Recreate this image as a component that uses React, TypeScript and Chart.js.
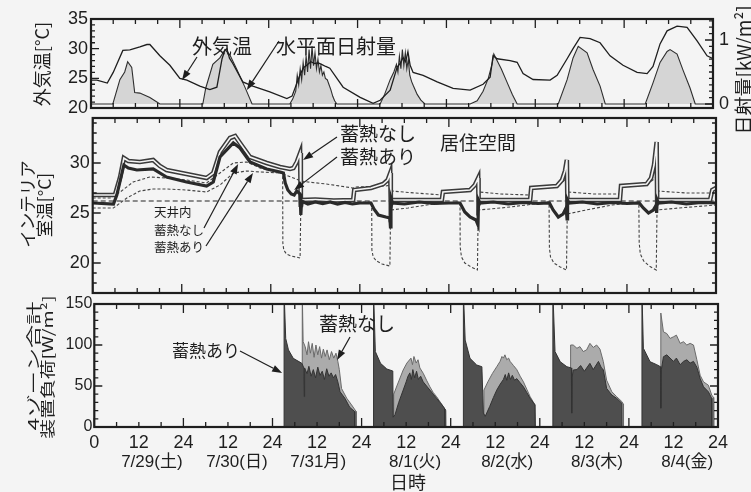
import React, { useEffect, useRef } from 'react';
import { Chart, registerables } from 'chart.js';

Chart.register(...registerables);

type Pair = [number, number];

// ---------------- data ----------------
const X_TICK_HOURS = [0, 12, 24, 36, 48, 60, 72, 84, 96, 108, 120, 132, 144, 156, 168];
const DAY_LABELS = ['7/29(土)', '7/30(日)', '7/31月)', '8/1(火)', '8/2(水)', '8/3(木)', '8/4(金)'];
const OUT_TEMP_TICKS = [20, 25, 30, 35];
const SOLAR_TICKS = [0, 1];
const ROOM_TEMP_TICKS = [20, 25, 30];
const LOAD_TICKS = [0, 50, 100, 150];

// 外気温 [°C]
const OUTDOOR_TEMP: Pair[] = [
  [0, 24.7], [1.6, 24.7], [4.4, 24.2], [6.0, 26.0], [8.6, 29.7], [10.5, 29.8], [13.2, 30.3], [15.1, 30.7],
  [15.9, 30.7], [18.6, 28.8], [21.3, 27.2], [24.0, 25.0], [25.9, 24.7], [29.4, 23.7], [32.1, 23.1], [34.0, 23.5],
  [35.4, 28.3], [36.2, 29.8], [36.7, 30.0], [37.4, 28.4], [38.3, 27.5], [41.0, 24.4], [43.7, 23.7], [48.3, 22.7],
  [52.9, 21.6], [54.3, 22.0], [56.4, 25.5], [57.4, 26.8], [58.4, 27.3], [59.4, 27.8], [60.4, 27.5], [61.4, 27.6],
  [62.4, 27.3], [63.4, 27.0], [64.5, 26.7], [68.1, 23.5], [72.7, 21.8], [76.2, 20.8], [78.1, 21.3], [80.8, 23.0],
  [82.7, 26.9], [83.5, 27.5], [84.3, 28.5], [85.0, 27.8], [85.6, 29.5], [86.2, 27.2], [87.0, 26.0], [89.7, 25.5],
  [93.5, 24.4], [97.8, 23.3], [102.4, 23.0], [105.9, 24.0], [107.8, 25.2], [108.6, 28.8], [109.7, 28.3],
  [113.2, 28.0], [115.1, 27.7], [116.7, 25.8], [119.4, 24.8], [124.0, 24.7], [125.9, 25.5], [128.6, 28.3],
  [130.2, 30.0], [132.1, 31.9], [134.8, 31.7], [137.5, 31.0], [140.2, 28.8], [143.7, 27.2], [147.5, 26.0],
  [150.2, 25.8], [151.8, 27.0], [153.7, 30.8], [155.6, 33.0], [158.3, 33.8], [161.0, 33.6], [163.7, 31.3],
  [166.4, 28.8], [168, 28.3],
];

// 水平面日射量 [kW/m²]
const SOLAR_RADIATION: Pair[] = [
  [0, 0], [5.9, 0], [7.8, 0.38], [9.1, 0.5], [9.9, 0.66], [11.0, 0.57], [11.8, 0.18], [13.2, 0.17], [15.9, 0.1],
  [17.8, 0.03], [18.6, 0],
  [30.2, 0], [31.0, 0.25], [32.9, 0.62], [34.8, 0.72], [36.2, 0.85], [37.5, 0.77], [39.4, 0.54], [41.6, 0.26], [43.5, 0],
  [53.7, 0], [54.5, 0.08], [55.3, 0.2], [55.7, 0.45], [56.1, 0.3], [56.5, 0.55], [56.9, 0.38], [57.3, 0.65],
  [57.7, 0.45], [58.1, 0.75], [58.5, 0.5], [58.9, 0.85], [59.3, 0.55], [59.7, 0.9], [60.1, 0.6], [60.5, 0.8],
  [60.9, 0.55], [61.3, 0.7], [61.7, 0.5], [62.1, 0.6], [62.5, 0.45], [62.9, 0.5], [63.3, 0.4], [63.8, 0.38],
  [64.3, 0.3], [64.8, 0.22], [65.3, 0.12], [65.8, 0.05], [66.4, 0],
  [78.1, 0], [79.3, 0.15], [80.8, 0.38], [81.8, 0.5], [82.5, 0.62], [82.9, 0.5], [83.3, 0.75], [83.7, 0.55],
  [84.1, 0.85], [84.5, 0.6], [84.9, 0.8], [85.3, 0.55], [85.7, 0.7], [86.1, 0.45], [86.6, 0.35], [87.1, 0.28],
  [88.1, 0.15], [89.1, 0.06], [90.2, 0],
  [102.4, 0], [104.3, 0.05], [105.9, 0.2], [107.3, 0.4], [108.3, 0.62], [108.8, 0.78], [109.5, 0.7], [110.8, 0.55],
  [112.3, 0.35], [113.8, 0.15], [115.1, 0],
  [126.2, 0], [128.6, 0.38], [130.2, 0.72], [131.6, 0.9], [134.0, 0.8], [135.6, 0.54], [137.5, 0.28], [138.9, 0],
  [149.7, 0], [151.8, 0.33], [153.7, 0.65], [155.6, 0.82], [156.4, 0.85], [158.3, 0.78], [159.9, 0.53],
  [161.8, 0.25], [163.2, 0], [168, 0],
];

// 居住空間 蓄熱なし [°C]
const ROOM_NO_STORAGE: Pair[] = [
  [0, 26.8], [6.0, 26.8], [7.4, 28.6], [8.4, 30.5], [9.6, 30.2], [12.7, 30.1], [16.3, 30.3], [18.1, 29.7],
  [19.9, 29.3], [25.3, 28.9], [30.7, 28.5], [32.5, 29.0], [34.3, 31.1], [37.0, 32.5], [38.4, 32.7], [39.7, 32.0],
  [42.4, 30.6], [46.9, 30.0], [50.5, 29.6], [53.2, 29.4], [54.1, 29.5], [55.0, 30.1], [55.9, 31.0], [56.1, 25.6],
  [56.4, 26.3], [60, 26.35], [65, 26.25], [70.2, 26.3], [70.5, 27.3], [75, 27.5], [78.3, 27.9], [79.5, 28.3],
  [80.2, 29.0], [80.35, 25.8], [80.7, 26.3], [87, 26.3], [94.1, 26.3], [94.4, 27.1], [101.7, 27.3], [103.0, 27.8],
  [103.9, 28.5], [104.0, 25.9], [104.4, 26.3], [111, 26.3], [117.9, 26.3], [118.2, 27.5], [125.1, 27.7],
  [126.5, 28.3], [127.3, 29.2], [127.8, 30.3], [127.95, 26.0], [128.4, 26.3], [135, 26.3], [142.1, 26.3],
  [142.4, 27.7], [149.3, 27.9], [150.5, 28.5], [151.3, 29.8], [152.0, 32.1], [152.15, 26.0], [152.6, 26.3],
  [160, 26.3], [166.4, 26.3], [167, 27.3], [168, 27.5],
];

// 居住空間 蓄熱あり [°C]
const ROOM_WITH_STORAGE: Pair[] = [
  [0, 26.0], [5.6, 25.9], [6.5, 26.8], [8.4, 29.8], [9.6, 29.5], [11.9, 29.3], [16.3, 29.4], [19.9, 28.6],
  [25.3, 28.1], [30.7, 27.7], [32.5, 28.1], [34.3, 30.6], [37.9, 32.0], [39.7, 31.5], [42.4, 30.1], [46.9, 29.4],
  [50.5, 29.1], [51.4, 29.0], [51.9, 28.0], [52.6, 27.3], [53.5, 26.9], [54.3, 26.8], [55.0, 27.2], [55.9, 26.9],
  [56.1, 24.8], [56.3, 26.2], [58, 25.9], [60, 26.1], [62, 25.95], [64, 26.1], [66, 25.9], [68, 26.05], [70, 25.9],
  [72, 26.0], [75.0, 26.0], [75.8, 25.4], [77.0, 24.8], [79.0, 24.6], [80.1, 24.5], [80.25, 23.6], [80.4, 26.5],
  [80.8, 26.0], [84, 25.9], [88, 26.1], [92, 25.95], [96, 26.0], [99.0, 26.0], [100.3, 25.1], [101.7, 24.6],
  [103.3, 24.3], [103.85, 23.8], [104.0, 26.3], [104.4, 26.0], [108, 26.1], [112, 25.9], [116, 26.05],
  [120, 25.95], [123.1, 26.0], [124.1, 25.3], [125.5, 24.6], [126.8, 24.9], [127.6, 25.5], [127.85, 24.4],
  [128.0, 26.3], [128.4, 26.0], [132, 26.1], [136, 25.9], [140, 26.05], [144, 25.95], [147.3, 26.0],
  [148.4, 25.5], [149.8, 25.0], [151.1, 25.3], [151.9, 25.8], [152.0, 25.0], [152.15, 26.3], [152.5, 26.0],
  [156, 26.1], [160, 25.9], [164, 26.05], [168, 26.0],
];

// 天井内 蓄熱なし [°C]
const CEILING_NO_STORAGE: Pair[] = [
  [0, 26.5], [4.7, 26.5], [7.4, 27.1], [10.9, 28.1], [15.4, 28.6], [19.9, 28.5], [25.3, 28.3], [30.7, 28.0],
  [34.3, 29.0], [37.9, 30.0], [41.5, 30.1], [45.1, 29.5], [50.5, 29.0], [54.1, 28.5], [56.1, 28.2], [58, 28.1],
  [63, 27.9], [70.2, 27.5], [71, 27.6], [79, 27.7], [80.3, 27.8], [80.6, 27.2], [87, 27.0], [94.1, 26.8],
  [94.5, 27.2], [101.7, 27.3], [103.9, 27.8], [104.2, 27.1], [110, 26.9], [117.9, 26.8], [118.3, 27.5],
  [125.1, 27.6], [127.8, 28.5], [128.1, 27.1], [135, 26.9], [142.1, 26.9], [142.5, 27.6], [149.3, 27.8],
  [152.0, 28.6], [152.3, 27.2], [160, 27.0], [166.4, 27.0], [168, 27.3],
];

// 天井内 蓄熱あり [°C]
const CEILING_WITH_STORAGE: Pair[] = [
  [0, 25.5], [5.6, 25.5], [9.2, 26.5], [12.7, 27.2], [16.3, 27.4], [19.9, 27.4], [25.3, 27.3], [30.7, 27.1],
  [34.3, 27.8], [37.9, 29.0], [41.5, 29.2], [45.1, 29.1], [51.2, 29.0], [51.25, 22.0], [51.5, 21.3], [52.2, 20.9],
  [53.5, 20.7], [55.9, 20.5], [56.1, 26.0], [62, 26.1], [70, 26.1], [75.2, 26.1], [75.25, 21.3], [75.6, 20.6],
  [76.5, 20.2], [78.0, 19.9], [80.1, 19.7], [80.3, 25.3], [85, 25.5], [90, 25.8], [95, 26.0], [99.0, 26.1],
  [99.05, 21.6], [99.4, 20.6], [100.3, 20.0], [102, 19.6], [103.7, 19.3], [103.9, 25.3], [110, 25.5], [117, 25.8],
  [123.0, 26.1], [123.1, 21.5], [123.4, 20.6], [124.3, 20.0], [126, 19.6], [127.7, 19.3], [127.9, 24.9],
  [133, 25.3], [140, 25.8], [147.2, 26.1], [147.3, 22.0], [147.6, 20.9], [148.5, 20.2], [150, 19.7],
  [151.9, 19.3], [152.1, 25.3], [158, 25.5], [168, 25.8],
];

// 基準線 [°C]
const SETPOINT: Pair[] = [[0, 26.2], [168, 26.2]];

// 4ゾーン合計 装置負荷 蓄熱あり [W/m²]
const LOAD_WITH_STORAGE: Pair[] = [
  [0, 0], [51.1, 0], [51.12, 165], [51.56, 108], [52.3, 94], [53.6, 83.7], [55.9, 77.7], [56.45, 72], [56.55, 37],
  [56.65, 72], [57.3, 65], [57.8, 74], [58.4, 62], [59.0, 70], [59.6, 60], [60.2, 73], [60.8, 63], [61.4, 68],
  [62.0, 58], [62.6, 71], [63.2, 62], [63.8, 66], [64.4, 60], [65.0, 64], [65.6, 55], [66.2, 43], [67.5, 35],
  [68.8, 24], [70.1, 19], [70.15, 0],
  [75.2, 0], [75.22, 165], [75.7, 92], [77.1, 77.6], [78.8, 70.7], [80.4, 68.3], [80.5, 12], [81.0, 15], [82.0, 30],
  [83.2, 45], [84.0, 55], [84.5, 62], [85.0, 66], [85.4, 58], [85.8, 70], [86.3, 60], [86.8, 68], [87.3, 58],
  [87.9, 62], [88.6, 55], [89.5, 50], [90.4, 45], [91.3, 40], [92.2, 35], [93.1, 30], [94.0, 25], [94.4, 22],
  [94.45, 0],
  [99.4, 0], [99.42, 165], [99.9, 106], [101.2, 83.7], [103.0, 75.6], [104.4, 73.5], [104.8, 17], [105.3, 13],
  [106.5, 25], [107.5, 36], [108.4, 45], [109.3, 52], [110.2, 58], [110.7, 64], [111.1, 57], [111.6, 66],
  [112.1, 58], [112.6, 63], [113.2, 57], [113.8, 59], [114.7, 54], [115.6, 49], [116.5, 42], [117.4, 35],
  [118.7, 27], [118.75, 0],
  [123.5, 0], [123.52, 165], [124.1, 92], [125.5, 79.6], [127.3, 73.5], [128.5, 72], [128.6, 17], [128.7, 60],
  [129.0, 69.5], [130.0, 70], [131.0, 75], [132.0, 68], [133.5, 77.6], [134.4, 70], [135.8, 80], [136.6, 72],
  [137.1, 70], [138.0, 47], [139.4, 39], [140.7, 35], [142.1, 29], [142.15, 0],
  [147.5, 0], [147.52, 165], [147.9, 96], [149.7, 79.6], [151.5, 76], [152.5, 73.5], [152.6, 23], [152.75, 70],
  [153.3, 85.7], [154.2, 88], [156.0, 80], [156.8, 84], [157.8, 76], [158.7, 80], [159.6, 82], [160.5, 78],
  [161.4, 80], [162.3, 73], [163.2, 59], [164.1, 49], [165.4, 43], [166.3, 35], [166.35, 0], [168, 0],
];

// 4ゾーン合計 装置負荷 蓄熱なし [W/m²]
const LOAD_NO_STORAGE: Pair[] = [
  [0, 0], [56.0, 0], [56.02, 165], [56.25, 104], [56.8, 98], [57.3, 88], [57.7, 104], [58.2, 90], [58.7, 102],
  [59.2, 85], [59.7, 100], [60.2, 88], [60.7, 98], [61.2, 84], [61.7, 95], [62.2, 86], [62.7, 94], [63.3, 82],
  [63.9, 92], [64.5, 84], [65.1, 90], [65.6, 80], [66.0, 70], [66.6, 47], [68.0, 35], [69.3, 27], [70.5, 19],
  [70.55, 0],
  [80.6, 0], [80.65, 40], [81.5, 50], [83.2, 69.5], [84.2, 78], [85.3, 84], [85.7, 76], [86.1, 86], [86.7, 78],
  [87.2, 82], [87.7, 72], [88.6, 65.5], [89.5, 57], [90.4, 49], [91.3, 42], [92.2, 37], [93.1, 31], [94.0, 25],
  [94.7, 20], [94.75, 0],
  [104.9, 0], [104.95, 45], [106.0, 55], [107.2, 65], [108.4, 73.5], [109.3, 80], [109.8, 86], [110.2, 84],
  [110.6, 88], [111.1, 82], [111.6, 84], [112.0, 80], [112.9, 75], [113.8, 70], [114.7, 62], [115.6, 55],
  [116.5, 46], [117.4, 37], [118.7, 27], [118.85, 0],
  [128.25, 0], [128.3, 100], [129.0, 100], [130.0, 96], [130.8, 98], [131.7, 92], [132.6, 94], [133.5, 102],
  [134.4, 97], [135.3, 100], [136.2, 95], [137.1, 80], [138.0, 57], [139.4, 43], [140.7, 37], [142.1, 31],
  [142.5, 28], [142.55, 0],
  [152.55, 0], [152.6, 139], [153.3, 116], [154.2, 114], [155.1, 108], [156.0, 110], [156.8, 112], [157.8, 102],
  [158.7, 104], [159.6, 100], [160.5, 102], [161.4, 100], [162.3, 82], [163.2, 63], [164.1, 55], [165.4, 51],
  [166.3, 39], [166.8, 36], [166.85, 0], [168, 0],
];

// ---------------- styling / layout ----------------
const W = 751;
const H = 492;
const INK = '#1e1e1e';
const PAPER = '#f4f4f4';
const NUM_FONT = "'Liberation Sans', Arial, 'Noto Sans CJK JP', sans-serif";
const JP_FONT = "'Noto Sans CJK JP', 'Liberation Sans', sans-serif";
const DAY_LABEL_HOURS = [15.5, 38.4, 60.3, 86.4, 111.2, 135.4, 159.7];

const pts = (a: Pair[]) => a.map(([x, y]) => ({ x, y }));

type TextSpec = {
  t: string; x: number; y: number; size: number; font?: string; align?: CanvasTextAlign;
  rot?: boolean; sx?: number; sy?: number;
};
type ArrowSpec = { x1: number; y1: number; h: number; v: number; axis: string };
type TickSpec = { scale: string; minor: number; major: number; side: 'left' | 'right' | 'both' };
type DecorSpec = { yTicks: TickSpec[]; texts: TextSpec[]; arrows: ArrowSpec[]; dayLabels?: boolean };

function makeDecor(spec: DecorSpec) {
  return {
    id: 'decor',
    afterDatasetsDraw(chart: any) {
      const ctx: CanvasRenderingContext2D = chart.ctx;
      const a = chart.chartArea;
      const xs = chart.scales.x;
      ctx.save();
      ctx.strokeStyle = INK;
      ctx.fillStyle = INK;
      ctx.lineWidth = 1.3;
      ctx.beginPath();
      for (let h = 0; h <= 168; h += 6) {
        const px = xs.getPixelForValue(h);
        const len = h % 24 === 0 ? 9 : 5;
        ctx.moveTo(px, a.top);
        ctx.lineTo(px, a.top + len);
        ctx.moveTo(px, a.bottom);
        ctx.lineTo(px, a.bottom - len);
      }
      for (const t of spec.yTicks) {
        const sc = chart.scales[t.scale];
        const n0 = Math.ceil(sc.min / t.minor - 1e-9);
        const n1 = Math.floor(sc.max / t.minor + 1e-9);
        for (let n = n0; n <= n1; n++) {
          const v = n * t.minor;
          const py = sc.getPixelForValue(v);
          const r = v / t.major;
          const major = Math.abs(r - Math.round(r)) < 1e-6;
          const len = major ? 8 : 4;
          if (t.side !== 'right') {
            ctx.moveTo(a.left, py);
            ctx.lineTo(a.left + len, py);
          }
          if (t.side !== 'left') {
            ctx.moveTo(a.right, py);
            ctx.lineTo(a.right - len, py);
          }
        }
      }
      ctx.stroke();
      ctx.lineWidth = 2.2;
      ctx.strokeRect(a.left, a.top, a.right - a.left, a.bottom - a.top);

      // arrows
      ctx.lineWidth = 1.2;
      for (const ar of spec.arrows) {
        const x2 = xs.getPixelForValue(ar.h);
        const y2 = chart.scales[ar.axis].getPixelForValue(ar.v);
        const ang = Math.atan2(y2 - ar.y1, x2 - ar.x1);
        const L = 10, hw = 3.6;
        const bx = x2 - L * Math.cos(ang), by = y2 - L * Math.sin(ang);
        ctx.beginPath();
        ctx.moveTo(ar.x1, ar.y1);
        ctx.lineTo(bx, by);
        ctx.stroke();
        ctx.beginPath();
        ctx.moveTo(x2, y2);
        ctx.lineTo(bx + hw * Math.sin(ang), by - hw * Math.cos(ang));
        ctx.lineTo(bx - hw * Math.sin(ang), by + hw * Math.cos(ang));
        ctx.closePath();
        ctx.fill();
      }

      // texts
      ctx.textBaseline = 'middle';
      for (const tx of spec.texts) {
        ctx.save();
        ctx.font = `${tx.size}px ${tx.font || JP_FONT}`;
        ctx.textAlign = tx.align || 'center';
        ctx.translate(tx.x, tx.y);
        if (tx.rot) ctx.rotate(-Math.PI / 2);
        if (tx.sx || tx.sy) ctx.scale(tx.sx || 1, tx.sy || 1);
        ctx.fillText(tx.t, 0, 0);
        ctx.restore();
      }

      if (spec.dayLabels) {
        ctx.font = `17px ${NUM_FONT}`;
        ctx.textAlign = 'center';
        DAY_LABELS.forEach((lab, i) => {
          ctx.fillText(lab, xs.getPixelForValue(DAY_LABEL_HOURS[i]), 462);
        });
        ctx.font = `18px ${JP_FONT}`;
        ctx.fillText('日時', 408, 482);
      }
      ctx.restore();
    },
  };
}

const baseOptions = (pad: any) => ({
  responsive: false,
  animation: false as const,
  devicePixelRatio: 1,
  layout: { padding: pad },
  plugins: { legend: { display: false }, tooltip: { enabled: false } },
  elements: { point: { radius: 0 }, line: { tension: 0 } },
});

const yAxis = (min: number, max: number, ticks: number[], position: 'left' | 'right', width: number, size: number, pad: number) => ({
  type: 'linear' as const,
  position,
  min,
  max,
  grid: { display: false, drawTicks: false },
  border: { display: false },
  ticks: { font: { family: NUM_FONT, size }, color: INK, padding: pad },
  afterBuildTicks: (s: any) => {
    s.ticks = ticks.map((v) => ({ value: v }));
  },
  afterFit: (s: any) => {
    s.width = width;
  },
});

function buildTop(c: HTMLCanvasElement) {
  const decor = makeDecor({
    yTicks: [
      { scale: 'y', minor: 1, major: 5, side: 'left' },
      { scale: 'y2', minor: 0.1, major: 1, side: 'right' },
    ],
    arrows: [
      { x1: 197, y1: 57, h: 24.6, v: 24.7, axis: 'y' },
      { x1: 279, y1: 41, h: 42.1, v: 0.22, axis: 'y2' },
    ],
    texts: [
      { t: '外気温', x: 222, y: 46, size: 20 },
      { t: '水平面日射量', x: 336, y: 46, size: 20 },
      { t: '外気温[°C]', x: 42, y: 64, size: 18, rot: true },
      { t: '日射量[kW/m²]', x: 744, y: 70, size: 19, rot: true },
    ],
  });
  return new Chart(c, {
    type: 'line',
    data: {
      datasets: [
        { data: pts(OUTDOOR_TEMP), yAxisID: 'y', borderColor: INK, borderWidth: 1.3, fill: false, pointRadius: 0 },
        {
          data: pts(SOLAR_RADIATION), yAxisID: 'y2', borderColor: '#2e2e2e', borderWidth: 1.1,
          fill: 'origin', backgroundColor: '#d5d5d5', pointRadius: 0,
        },
      ],
    },
    options: {
      ...baseOptions({ left: 0, right: 0, top: 19, bottom: H - 108 }),
      scales: {
        x: { type: 'linear', min: 0, max: 168, display: false },
        y: yAxis(20, 35, OUT_TEMP_TICKS, 'left', 91, 18, 3),
        y2: yAxis(-0.0625, 1.328, SOLAR_TICKS, 'right', W - 713, 18, 6),
      },
    } as any,
    plugins: [decor],
  });
}

function buildMid(c: HTMLCanvasElement) {
  const decor = makeDecor({
    yTicks: [{ scale: 'y', minor: 1, major: 5, side: 'both' }],
    arrows: [
      { x1: 337, y1: 137, h: 56.7, v: 30.3, axis: 'y' },
      { x1: 337, y1: 157, h: 54.3, v: 27.3, axis: 'y' },
      { x1: 204, y1: 228, h: 39.2, v: 29.9, axis: 'y' },
      { x1: 206, y1: 246, h: 43.2, v: 29.0, axis: 'y' },
    ],
    texts: [
      { t: '蓄熱なし', x: 378, y: 134, size: 19 },
      { t: '蓄熱あり', x: 378, y: 157, size: 19 },
      { t: '居住空間', x: 478, y: 143, size: 19 },
      { t: '天井内', x: 154, y: 212, size: 12.5, align: 'left' },
      { t: '蓄熱なし', x: 154, y: 230, size: 12.5, align: 'left' },
      { t: '蓄熱あり', x: 154, y: 247, size: 12.5, align: 'left' },
      { t: 'インテリア', x: 27, y: 204, size: 17.5, rot: true },
      { t: '室温[°C]', x: 44, y: 205, size: 17.5, rot: true },
    ],
  });
  const line = (d: Pair[], color: string, width: number, dash: number[] = []) => ({
    data: pts(d), yAxisID: 'y', borderColor: color, borderWidth: width, borderDash: dash, fill: false, pointRadius: 0,
  });
  return new Chart(c, {
    type: 'line',
    data: {
      datasets: [
        line(ROOM_WITH_STORAGE, '#2a2a2a', 3.2),
        line(ROOM_NO_STORAGE, PAPER, 1.6),
        line(ROOM_NO_STORAGE, '#3a3a3a', 4.6),
        line(SETPOINT, '#222', 1.2, [5, 3]),
        line(CEILING_NO_STORAGE, '#444', 1.1, [3, 2]),
        line(CEILING_WITH_STORAGE, '#444', 1.1, [3, 2]),
      ],
    },
    options: {
      ...baseOptions({ left: 0, right: W - 716, top: 118, bottom: H - 293 }),
      scales: {
        x: { type: 'linear', min: 0, max: 168, display: false },
        y: yAxis(17, 34.5, ROOM_TEMP_TICKS, 'left', 92.7, 18, 3),
      },
    } as any,
    plugins: [decor],
  });
}

function buildBottom(c: HTMLCanvasElement) {
  const decor = makeDecor({
    yTicks: [{ scale: 'y', minor: 10, major: 50, side: 'both' }],
    arrows: [
      { x1: 240, y1: 351, h: 50.6, v: 65.9, axis: 'y' },
      { x1: 350, y1: 337, h: 65.4, v: 81.7, axis: 'y' },
    ],
    texts: [
      { t: '蓄熱あり', x: 206, y: 351, size: 17 },
      { t: '蓄熱なし', x: 357, y: 324, size: 19 },
      { t: '4ゾーン合計', x: 34, y: 366, size: 19, rot: true, sx: 1.22, sy: 0.75 },
      { t: '装置負荷[W/m²]', x: 48, y: 367, size: 19, rot: true, sx: 1.04, sy: 0.75 },
    ],
    dayLabels: true,
  });
  return new Chart(c, {
    type: 'line',
    data: {
      datasets: [
        {
          data: pts(LOAD_WITH_STORAGE), yAxisID: 'y', borderColor: '#333', borderWidth: 1,
          fill: 'origin', backgroundColor: '#4e4e4e', pointRadius: 0,
        },
        {
          data: pts(LOAD_NO_STORAGE), yAxisID: 'y', borderColor: '#6a6a6a', borderWidth: 1,
          fill: 'origin', backgroundColor: '#ababab', pointRadius: 0,
        },
      ],
    },
    options: {
      ...baseOptions({ left: 0, right: W - 718, top: 304, bottom: 0 }),
      scales: {
        x: {
          type: 'linear',
          min: 0,
          max: 168,
          position: 'bottom',
          grid: { display: false, drawTicks: false },
          border: { display: false },
          ticks: {
            font: { family: NUM_FONT, size: 18 },
            color: INK,
            padding: 5,
            maxRotation: 0,
            autoSkip: false,
            callback: (v: any) => (Number(v) === 0 ? '0' : Number(v) % 24 === 0 ? '24' : '12'),
          },
          afterBuildTicks: (s: any) => {
            s.ticks = X_TICK_HOURS.map((v) => ({ value: v }));
          },
          afterFit: (s: any) => {
            s.height = H - 427;
          },
        },
        y: yAxis(0, 150, LOAD_TICKS, 'left', 94.3, 16, 2),
      },
    } as any,
    plugins: [decor],
  });
}

function Panel({ build }: { build: (c: HTMLCanvasElement) => Chart }) {
  const ref = useRef<HTMLCanvasElement>(null);
  useEffect(() => {
    const chart = build(ref.current as HTMLCanvasElement);
    return () => chart.destroy();
  }, [build]);
  return (
    <canvas
      ref={ref}
      width={W}
      height={H}
      style={{ position: 'absolute', left: 0, top: 0, width: W, height: H }}
    />
  );
}

export default function App() {
  return (
    <div
      style={{
        position: 'fixed',
        left: 0,
        top: 0,
        width: W,
        height: H,
        background: PAPER,
        overflow: 'hidden',
      }}
    >
      <Panel build={buildTop} />
      <Panel build={buildMid} />
      <Panel build={buildBottom} />
    </div>
  );
}
